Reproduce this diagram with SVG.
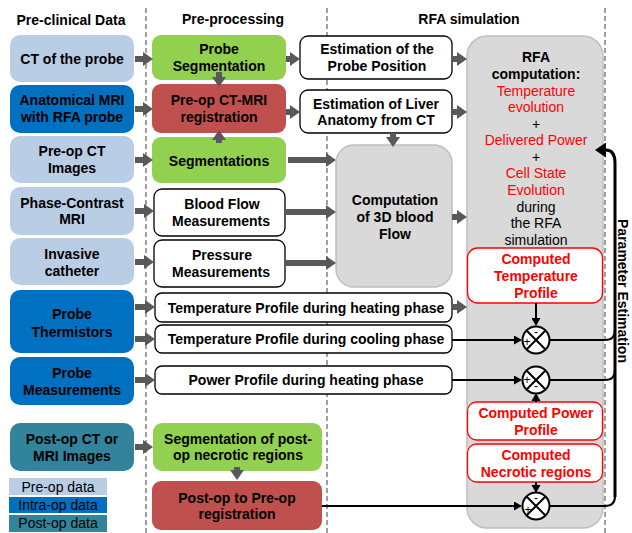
<svg xmlns="http://www.w3.org/2000/svg" width="632" height="533" viewBox="0 0 632 533">
<style>
text{font-family:"Liberation Sans",Arial,sans-serif;font-size:14px;font-weight:bold;text-anchor:middle;fill:#000}
.n{font-weight:normal}
.red{fill:#ff0000}
.pre{fill:#b9cde5}
.intra{fill:#0070c0}
.post{fill:#31849b}
.grn{fill:#92d050}
.rd{fill:#c0504d}
.wb{fill:#fff;stroke:#000;stroke-width:1.3}
.gry{fill:#d9d9d9;stroke:#bfbfbf;stroke-width:1.5}
.rb{fill:#fff;stroke:#ff0000;stroke-width:1.3}
.dash{stroke:#404040;stroke-width:1;stroke-dasharray:5,3;fill:none}
.ga{stroke:#595959;stroke-width:6;fill:none;marker-end:url(#gh)}
.bl{stroke:#000;stroke-width:2;fill:none}
.cmp{fill:#fff;stroke:#000;stroke-width:2}
.sg{font-size:12px;font-weight:normal;fill:#000}
</style>
<defs>
<marker id="gh" markerUnits="userSpaceOnUse" markerWidth="10" markerHeight="14" viewBox="0 0 10 14" refX="0" refY="7" orient="auto"><path d="M0,0 L10,7 L0,14 Z" fill="#595959"/></marker>
<marker id="bh" markerUnits="userSpaceOnUse" markerWidth="8" markerHeight="9" viewBox="0 0 8 9" refX="0" refY="4.5" orient="auto"><path d="M0,0 L8,4.5 L0,9 Z" fill="#000"/></marker>
<marker id="fh" markerUnits="userSpaceOnUse" markerWidth="11" markerHeight="15" viewBox="0 0 11 15" refX="0" refY="7.5" orient="auto"><path d="M0,0 L11,7.5 L0,15 Z" fill="#000"/></marker>
</defs>

<g id="separators">
<line class="dash" x1="146" y1="8" x2="146" y2="533"/>
<line class="dash" x1="327" y1="8" x2="327" y2="533"/>
<line class="dash" x1="605" y1="8" x2="605" y2="533"/>
</g>

<g id="headers">
<text x="71" y="25">Pre-clinical Data</text>
<text x="233" y="24">Pre-processing</text>
<text x="469" y="24">RFA simulation</text>
</g>

<g id="ct-probe"><rect class="pre" x="10" y="35" width="124" height="47" rx="10"/><text x="72" y="64">CT of the probe</text></g>
<g id="anat-mri"><rect class="intra" x="10" y="85" width="124" height="48" rx="10"/><text x="72" y="105">Anatomical MRI</text><text x="72" y="122">with RFA probe</text></g>
<g id="preop-ct"><rect class="pre" x="10" y="136" width="124" height="47" rx="10"/><text x="72" y="156">Pre-op CT</text><text x="72" y="173">Images</text></g>
<g id="phase-mri"><rect class="pre" x="10" y="187" width="124" height="48" rx="10"/><text x="72" y="208">Phase-Contrast</text><text x="72" y="224">MRI</text></g>
<g id="catheter"><rect class="pre" x="10" y="238" width="124" height="47" rx="10"/><text x="72" y="259">Invasive</text><text x="72" y="276">catheter</text></g>
<g id="thermistors"><rect class="intra" x="10" y="290" width="124" height="63" rx="10"/><text x="72" y="319">Probe</text><text x="72" y="337">Thermistors</text></g>
<g id="probe-meas"><rect class="intra" x="10" y="357" width="124" height="48" rx="10"/><text x="72" y="378">Probe</text><text x="72" y="395">Measurements</text></g>
<g id="postop-ct"><rect class="post" x="10" y="423" width="124" height="48" rx="10"/><text x="72" y="444">Post-op CT or</text><text x="72" y="461">MRI Images</text></g>

<g id="legend">
<rect class="pre" x="9" y="478" width="98" height="17"/><text class="n" x="58" y="492">Pre-op data</text>
<rect class="intra" x="9" y="497" width="98" height="16"/><text class="n" x="58" y="510">Intra-op data</text>
<rect class="post" x="9" y="515" width="98" height="17"/><text class="n" x="58" y="528">Post-op data</text>
</g>

<g id="probe-seg"><rect class="grn" x="152" y="35" width="134" height="45" rx="9"/><text x="219" y="54">Probe</text><text x="219" y="71">Segmentation</text></g>
<g id="ctmri-reg"><rect class="rd" x="152" y="84" width="134" height="49" rx="9"/><text x="219" y="105">Pre-op CT-MRI</text><text x="219" y="122">registration</text></g>
<g id="segmentations"><rect class="grn" x="152" y="137" width="134" height="46" rx="9"/><text x="219" y="166">Segmentations</text></g>
<g id="blood-flow"><rect class="wb" x="154" y="189" width="131" height="47" rx="8"/><text x="222" y="209">Blood Flow</text><text x="221" y="226">Measurements</text></g>
<g id="pressure"><rect class="wb" x="154" y="240" width="131" height="47" rx="8"/><text x="222" y="260">Pressure</text><text x="221" y="277">Measurements</text></g>
<g id="temp-heat"><rect class="wb" x="155" y="293" width="297" height="29" rx="7"/><text x="306" y="313">Temperature Profile during heating phase</text></g>
<g id="temp-cool"><rect class="wb" x="155" y="325" width="297" height="28" rx="7"/><text x="306" y="344">Temperature Profile during cooling phase</text></g>
<g id="power-heat"><rect class="wb" x="155" y="366" width="297" height="28" rx="7"/><text x="306" y="385">Power Profile during heating phase</text></g>
<g id="seg-postop"><rect class="grn" x="153" y="423" width="169" height="48" rx="9"/><text x="238" y="444">Segmentation of post-</text><text x="238" y="460">op necrotic regions</text></g>
<g id="postop-reg"><rect class="rd" x="152" y="481" width="170" height="49" rx="9"/><text x="237" y="503">Post-op to Pre-op</text><text x="237" y="519">registration</text></g>

<g id="est-probe"><rect class="wb" x="300" y="36" width="152" height="43" rx="8"/><text x="377" y="54">Estimation of the</text><text x="377" y="71">Probe Position</text></g>
<g id="est-liver"><rect class="wb" x="300" y="90" width="152" height="43" rx="8"/><text x="376" y="109">Estimation of Liver</text><text x="376" y="125">Anatomy from CT</text></g>
<g id="blood-3d"><rect class="gry" x="336" y="145" width="116" height="142" rx="18"/><text x="395" y="205">Computation</text><text x="395" y="222">of 3D blood</text><text x="395" y="239">Flow</text></g>

<g id="rfa">
<rect class="gry" x="467" y="36" width="136" height="492" rx="20"/>
<text x="536" y="62">RFA</text>
<text x="536" y="79">computation:</text>
<text class="n red" x="536" y="96">Temperature</text>
<text class="n red" x="536" y="112">evolution</text>
<text class="n" x="536" y="129">+</text>
<text class="n red" x="536" y="145">Delivered Power</text>
<text class="n" x="536" y="162">+</text>
<text class="n red" x="536" y="178">Cell State</text>
<text class="n red" x="536" y="195">Evolution</text>
<text class="n" x="536" y="212">during</text>
<text class="n" x="536" y="228">the RFA</text>
<text class="n" x="536" y="245">simulation</text>
</g>
<g id="comp-temp"><rect class="rb" x="467.5" y="248" width="135" height="55" rx="10"/><text class="red" x="536" y="264">Computed</text><text class="red" x="536" y="281">Temperature</text><text class="red" x="536" y="298">Profile</text></g>
<g id="comp-power"><rect class="rb" x="467.5" y="402" width="135" height="38" rx="9"/><text class="red" x="536" y="418">Computed Power</text><text class="red" x="536" y="435">Profile</text></g>
<g id="comp-necro"><rect class="rb" x="467.5" y="444" width="135" height="38" rx="9"/><text class="red" x="536" y="460">Computed</text><text class="red" x="536" y="477">Necrotic regions</text></g>

<g id="connectors">
<line class="ga" x1="135" y1="59" x2="143" y2="59"/>
<line class="ga" x1="135" y1="109" x2="143" y2="109"/>
<line class="ga" x1="135" y1="160" x2="143" y2="160"/>
<line class="ga" x1="135" y1="211" x2="144" y2="211"/>
<line class="ga" x1="135" y1="262" x2="144" y2="262"/>
<line class="ga" x1="135" y1="307" x2="145" y2="307"/>
<line class="ga" x1="135" y1="339" x2="145" y2="339"/>
<line class="ga" x1="135" y1="380" x2="145" y2="380"/>
<line class="ga" x1="135" y1="447" x2="143" y2="447"/>
<line class="ga" x1="286" y1="59" x2="290" y2="59"/>
<line class="ga" x1="286" y1="112" x2="290" y2="112"/>
<line class="ga" x1="288" y1="160" x2="326" y2="160"/>
<line class="ga" x1="286" y1="212" x2="326" y2="212"/>
<line class="ga" x1="286" y1="263" x2="326" y2="263"/>
<line class="ga" x1="452" y1="59" x2="457" y2="59"/>
<line class="ga" x1="452" y1="112" x2="457" y2="112"/>
<line class="ga" x1="452" y1="217" x2="457" y2="217"/>
<line class="ga" x1="452" y1="307" x2="457" y2="307"/>
<line class="ga" x1="219" y1="72" x2="219" y2="77"/>
<line class="ga" x1="219" y1="143" x2="219" y2="140"/>
<line class="ga" x1="393" y1="133" x2="393" y2="137"/>
<line class="ga" x1="237" y1="467" x2="237" y2="470"/>

<path class="bl" d="M452 340 H514" marker-end="url(#bh)"/>
<path class="bl" d="M452 380 H514" marker-end="url(#bh)"/>
<path class="bl" d="M322 506 H514" marker-end="url(#bh)"/>
<path class="bl" d="M536 303 V318" marker-end="url(#bh)"/>
<path class="bl" d="M536 402 V399"/><path d="M536 393 L531.5 401 L540.5 401 Z"/>
<path class="bl" d="M536 482 V485"/><path d="M536 493 L531.5 485 L540.5 485 Z"/>

<path class="bl" d="M549.5 340 H605 Q615 340 615 330"/>
<path class="bl" d="M549.5 380 H605 Q615 380 615 370"/>
<path class="bl" d="M549.5 506 H605 Q615 506 615 496"/>
<path d="M615 497 V163 Q615 150 606 150" stroke="#000" stroke-width="3" fill="none" marker-end="url(#fh)"/>

<g id="cmp1"><circle class="cmp" cx="536" cy="340" r="13.5"/><path class="bl" d="M526.5 330.5 L545.5 349.5 M545.5 330.5 L526.5 349.5"/><text class="sg" x="536" y="336">-</text><text class="sg" x="527" y="346">+</text></g>
<g id="cmp2"><circle class="cmp" cx="536" cy="380" r="13.5"/><path class="bl" d="M526.5 370.5 L545.5 389.5 M545.5 370.5 L526.5 389.5"/><text class="sg" x="527" y="384">+</text><text class="sg" x="536" y="390">-</text></g>
<g id="cmp3"><circle class="cmp" cx="536" cy="506" r="13.5"/><path class="bl" d="M526.5 496.5 L545.5 515.5 M545.5 496.5 L526.5 515.5"/><text class="sg" x="536" y="502">-</text><text class="sg" x="528" y="514">+</text></g>
</g>

<g id="param-label"><text transform="translate(618 291) rotate(90)">Parameter Estimation</text></g>
</svg>
